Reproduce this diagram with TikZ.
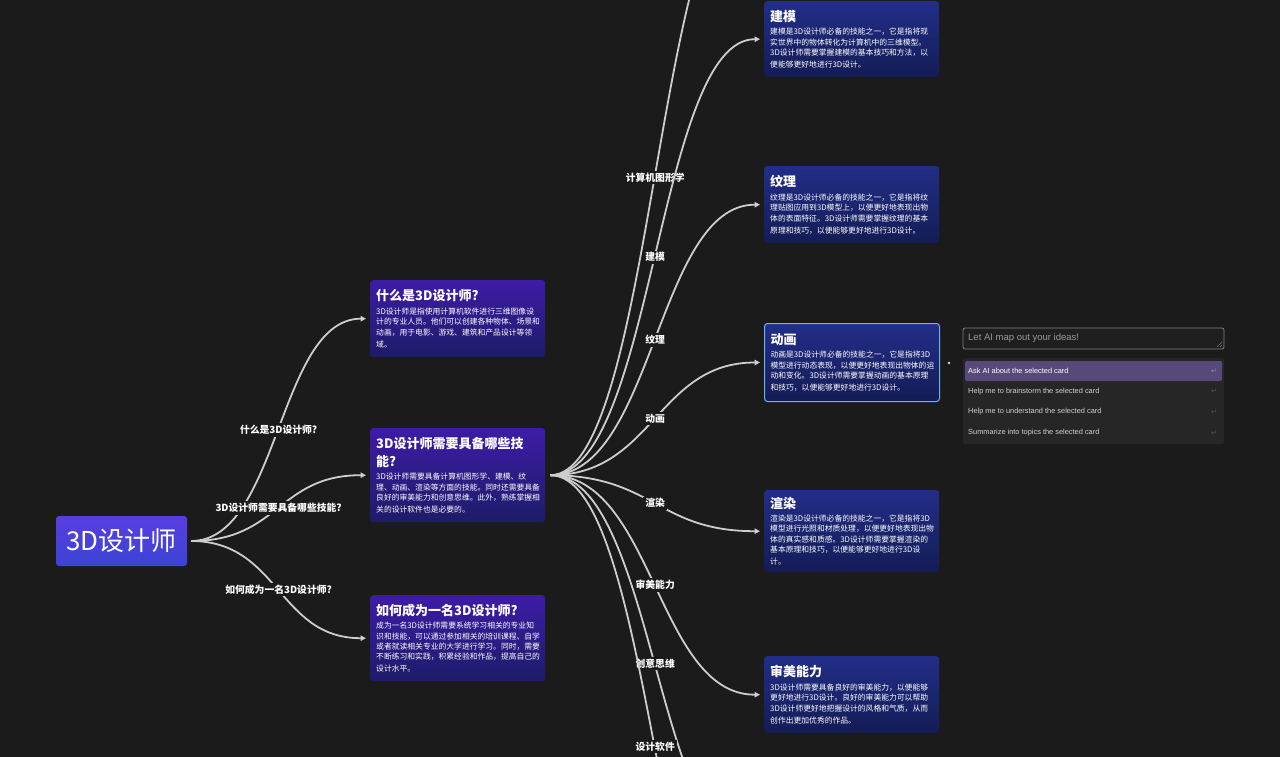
\documentclass[tikz,border=0pt]{standalone}
\usepackage{fontspec}
\setmainfont{Noto Sans CJK SC}
\newfontfamily\enfont{Liberation Sans}
\newfontfamily\symfont{DejaVu Sans}
\usetikzlibrary{arrows.meta}
\definecolor{bg}{HTML}{1B1B1B}
\definecolor{edgec}{HTML}{CDCDCD}
\definecolor{pTop}{HTML}{3D1CA6}
\definecolor{pBot}{HTML}{1D1C68}
\definecolor{bTop}{HTML}{222E88}
\definecolor{bBot}{HTML}{141C55}
\definecolor{rTop}{HTML}{5A3DE0}
\definecolor{rBot}{HTML}{3A44D4}
\definecolor{selc}{HTML}{6BB0F2}
\definecolor{panelc}{HTML}{262626}
\definecolor{hlc}{HTML}{574A7B}
\newcommand{\ttl}{\fontsize{13}{18}\selectfont\bfseries}
\newcommand{\bdy}{\normalfont\fontsize{7.8}{10.4}\selectfont}
\begin{document}
\begin{tikzpicture}[x=1pt,y=-1pt,
  edge/.style={draw=edgec, line width=1.8pt, -{Triangle[length=5.5pt,width=5.5pt]}},
  lbl/.style={fill=bg, text=white, font=\fontsize{9.8}{11}\selectfont\bfseries, inner sep=2pt},
  pcard/.style={rounded corners=3pt, top color=pTop, bottom color=pBot, text width=163pt, inner xsep=6pt, inner ysep=5pt, align=left, anchor=north west, text=white},
  bcard/.style={pcard, top color=bTop, bottom color=bBot},
  rootbox/.style={rounded corners=3pt, top color=rTop, bottom color=rBot, minimum width=131pt, minimum height=50pt, text=white, font=\fontsize{26}{30}\selectfont, inner sep=0pt},
  item/.style={anchor=west, font=\enfont\fontsize{7.4}{9}\selectfont, text=white!82!black, inner sep=0pt},
  ret/.style={anchor=center, font=\symfont\fontsize{7}{8}\selectfont, text=white!35!black, inner sep=0pt}
]
\useasboundingbox (0,0) rectangle (1280,757);
\fill[bg] (0,0) rectangle (1280,757);
\clip (0,0) rectangle (1280,757);

% root
\node[rootbox] (root) at (121.5,541) {3D设计师};

% first level cards
\node[pcard, minimum height=77pt] (c1) at (370,280) {\ttl 什么是3D设计师?\par\vspace{3pt}\bdy 3D设计师是指使用计算机软件进行三维图像设\\计的专业人员。他们可以创建各种物体、场景和\\动画，用于电影、游戏、建筑和产品设计等领\\域。};
\node[pcard, minimum height=94pt] (c2) at (370,428) {\ttl 3D设计师需要具备哪些技\\能?\par\vspace{3pt}\bdy 3D设计师需要具备计算机图形学、建模、纹\\理、动画、渲染等方面的技能。同时还需要具备\\良好的审美能力和创意思维。此外，熟练掌握相\\关的设计软件也是必要的。};
\node[pcard, minimum height=86pt] (c3) at (370,595) {\ttl 如何成为一名3D设计师?\par\vspace{3pt}\bdy 成为一名3D设计师需要系统学习相关的专业知\\识和技能，可以通过参加相关的培训课程、自学\\或者就读相关专业的大学进行学习。同时，需要\\不断练习和实践，积累经验和作品，提高自己的\\设计水平。};

% second level cards
\node[bcard, minimum height=76pt] (k2) at (764,1) {\ttl 建模\par\vspace{3pt}\bdy 建模是3D设计师必备的技能之一，它是指将现\\实世界中的物体转化为计算机中的三维模型。\\3D设计师需要掌握建模的基本技巧和方法，以\\便能够更好地进行3D设计。};
\node[bcard, minimum height=77pt] (k3) at (764,166) {\ttl 纹理\par\vspace{3pt}\bdy 纹理是3D设计师必备的技能之一，它是指将纹\\理贴图应用到3D模型上，以便更好地表现出物\\体的表面特征。3D设计师需要掌握纹理的基本\\原理和技巧，以便能够更好地进行3D设计。};
\node[bcard, minimum height=78pt, draw=selc, line width=1pt] (k4) at (764,323) {\ttl 动画\par\vspace{3pt}\bdy 动画是3D设计师必备的技能之一，它是指将3D\\模型进行动态表现，以便更好地表现出物体的运\\动和变化。3D设计师需要掌握动画的基本原理\\和技巧，以便能够更好地进行3D设计。};
\node[bcard, minimum height=82pt] (k5) at (764,490) {\ttl 渲染\par\vspace{3pt}\bdy 渲染是3D设计师必备的技能之一，它是指将3D\\模型进行光照和材质处理，以便更好地表现出物\\体的真实感和质感。3D设计师需要掌握渲染的\\基本原理和技巧，以便能够更好地进行3D设\\计。};
\node[bcard, minimum height=77pt] (k6) at (764,656) {\ttl 审美能力\par\vspace{3pt}\bdy 3D设计师需要具备良好的审美能力，以便能够\\更好地进行3D设计。良好的审美能力可以帮助\\3D设计师更好地把握设计的风格和气质，从而\\创作出更加优秀的作品。};

% off-screen targets
\coordinate (k1) at (764,-120);
\coordinate (k7) at (764,852);
\coordinate (k8) at (764,1018);

% first level edges
\draw[edge] ([xshift=4pt]root.east) .. controls +(88,0) and +(-88,0) .. ([xshift=-4pt]c1.west) node[lbl,pos=0.5] {什么是3D设计师?};
\draw[edge] ([xshift=4pt]root.east) .. controls +(88,0) and +(-88,0) .. ([xshift=-4pt]c2.west) node[lbl,pos=0.5] {3D设计师需要具备哪些技能?};
\draw[edge] ([xshift=4pt]root.east) .. controls +(88,0) and +(-88,0) .. ([xshift=-4pt]c3.west) node[lbl,pos=0.5] {如何成为一名3D设计师?};

% second level edges
\coordinate (s) at ([xshift=5pt]c2.east);
\draw[edge] (s) .. controls +(103,0) and +(-103,0) .. ([xshift=-4pt]k1) node[lbl,pos=0.5] {计算机图形学};
\draw[edge] (s) .. controls +(103,0) and +(-103,0) .. ([xshift=-4pt]k2.west) node[lbl,pos=0.5] {建模};
\draw[edge] (s) .. controls +(103,0) and +(-103,0) .. ([xshift=-4pt]k3.west) node[lbl,pos=0.5] {纹理};
\draw[edge] (s) .. controls +(103,0) and +(-103,0) .. ([xshift=-4pt]k4.west) node[lbl,pos=0.5] {动画};
\draw[edge] (s) .. controls +(103,0) and +(-103,0) .. ([xshift=-4pt]k5.west) node[lbl,pos=0.5] {渲染};
\draw[edge] (s) .. controls +(103,0) and +(-103,0) .. ([xshift=-4pt]k6.west) node[lbl,pos=0.5] {审美能力};
\draw[edge] (s) .. controls +(103,0) and +(-103,0) .. ([xshift=-4pt]k7) node[lbl,pos=0.5] {创意思维};
\draw[edge] (s) .. controls +(103,0) and +(-103,0) .. ([xshift=-4pt]k8) node[lbl,pos=0.5] {设计软件};

% AI panel
\fill[white!85!black] (949,363) circle (1.4pt);
\draw[draw=white!50!black, fill=white!12!black, rounded corners=2pt, line width=0.8pt] (963,328) rectangle (1224,349);
\node[anchor=west, font=\enfont\fontsize{9.5}{11}\selectfont, text=white!60!black, inner sep=0pt] (inp) at (968,338) {Let AI map out your ideas!};
\draw[white!45!black, line width=0.5pt] (1217,347) -- (1222,342) (1220,347) -- (1222,345);
\fill[panelc, rounded corners=2pt] (963,358) rectangle (1224,444);
\fill[hlc, rounded corners=1.5pt] (965,361) rectangle (1222,381);
\node[item, text=white] (i1) at (968,371) {Ask AI about the selected card};
\node[item] (i2) at (968,391.5) {Help me to brainstorm the selected card};
\node[item] (i3) at (968,412) {Help me to understand the selected card};
\node[item] (i4) at (968,433) {Summarize into topics the selected card};
\node[ret, text=white!55!black] (r1) at (1214,371) {↵};
\node[ret] (r2) at (1214,391.5) {↵};
\node[ret] (r3) at (1214,412) {↵};
\node[ret] (r4) at (1214,433) {↵};
\end{tikzpicture}
\end{document}
